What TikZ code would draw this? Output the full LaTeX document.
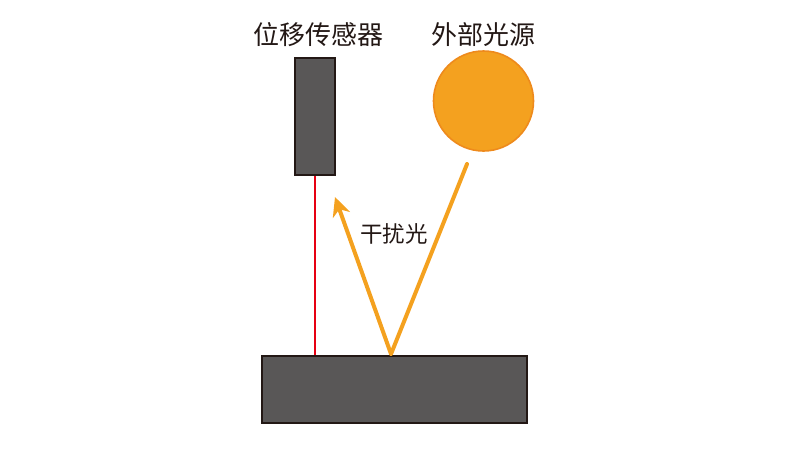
\documentclass[tikz,border=0pt]{standalone}
\usepackage{fontspec}
\newfontfamily\cjk{Noto Sans CJK SC}
\usetikzlibrary{arrows.meta}
\definecolor{darkbox}{HTML}{595757}
\definecolor{boxedge}{HTML}{231815}
\definecolor{lightor}{HTML}{F4A11F}
\definecolor{lightedge}{HTML}{EE8A1C}
\definecolor{laser}{HTML}{E60012}
\definecolor{txt}{HTML}{231815}
\tikzset{
  darkblock/.style={draw=boxedge,fill=darkbox,line width=1.6pt},
  ray/.style={draw=lightor,line width=4pt},
  lbl/.style={font=\cjk\fontsize{26}{31}\selectfont,text=txt,inner sep=0pt},
  smalllbl/.style={font=\cjk\fontsize{22.5}{27}\selectfont,text=txt,inner sep=0pt}
}
\begin{document}
\begin{tikzpicture}[x=1pt,y=-1pt]
\useasboundingbox (0,0) rectangle (800,450);
\node[darkblock,minimum width=40pt,minimum height=117pt,inner sep=0pt] (sensor) at (315,116.5) {};
\node[darkblock,minimum width=265pt,minimum height=67pt,inner sep=0pt] (base) at (394.5,389.5) {};
\node[circle,draw=lightedge,fill=lightor,line width=1.6pt,minimum size=100pt,inner sep=0pt] (sun) at (483.5,101) {};
\node[lbl] (tsensor) at (318,35) {位移传感器};
\node[lbl] (tsun) at (483.5,35) {外部光源};
\node[smalllbl] (tint) at (394,234) {干扰光};
\coordinate (hit) at (391,354);
\coordinate (src) at (467,164);
\coordinate (tip) at (335,197);
\draw[laser,line width=2pt] (sensor.south) -- (sensor.south |- base.north);
\draw[ray,line cap=round] (src) -- (hit);
\draw[ray,-{Stealth[length=19pt,width=18pt,inset=6pt]}] (hit) -- (tip);
\end{tikzpicture}
\end{document}
